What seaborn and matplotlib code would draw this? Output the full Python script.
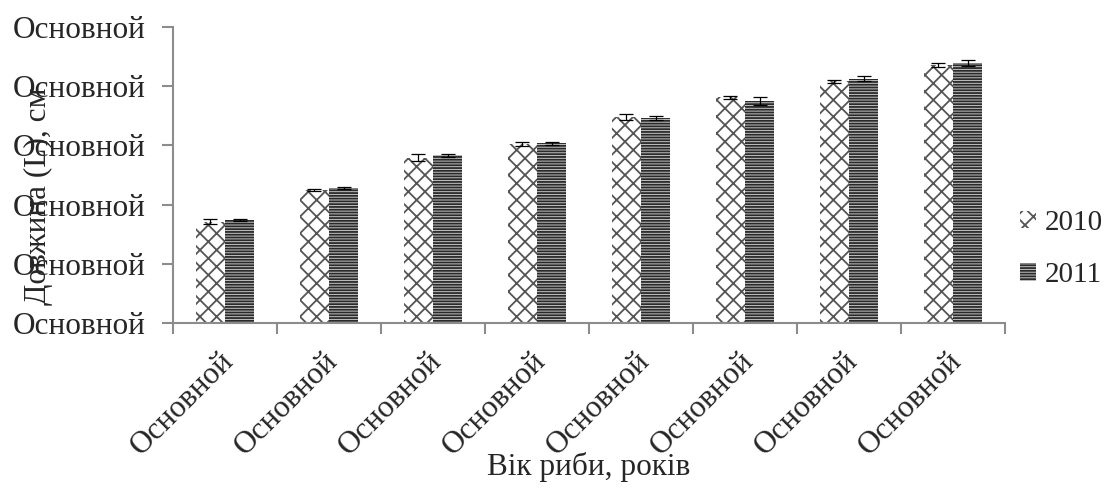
import matplotlib
matplotlib.use('Agg')
import matplotlib.pyplot as plt
from matplotlib.transforms import ScaledTranslation
import seaborn as sns
import pandas as pd

# ---- data ----
ages = ['1', '2', '3', '4', '5', '6', '7', '8']
x_tick_labels = ['Основной', 'Основной', 'Основной', 'Основной',
                 'Основной', 'Основной', 'Основной', 'Основной']
years = ['2010', '2011']
len_2010 = [17.1, 22.5, 27.9, 30.2, 34.85, 38.1, 40.8, 43.6]
len_2011 = [17.4, 22.8, 28.3, 30.35, 34.6, 37.5, 41.3, 43.9]
err_2010 = [0.4, 0.2, 0.6, 0.3, 0.5, 0.3, 0.3, 0.35]
err_2011 = [0.2, 0.15, 0.2, 0.3, 0.3, 0.7, 0.45, 0.45]
y_ticks = [0, 10, 20, 30, 40, 50]
y_tick_labels = ['Основной', 'Основной', 'Основной', 'Основной', 'Основной', 'Основной']
x_title = 'Вік риби, років'
y_title = 'Довжина (L), см'

df = pd.DataFrame({
    'age': ages + ages,
    'length': len_2010 + len_2011,
    'year': [years[0]] * len(ages) + [years[1]] * len(ages),
})
errors = [err_2010, err_2011]

sns.set_style('white')
plt.rcParams['font.family'] = ['Liberation Serif', 'DejaVu Serif']
plt.rcParams['hatch.linewidth'] = 1.3
FS = 22.5

fig = plt.figure(figsize=(11.1, 4.93), dpi=100)
ax = fig.add_axes([173 / 1110, 1 - 323 / 493, (1005 - 173) / 1110, (323 - 27) / 493])

sns.barplot(data=df, x='age', y='length', hue='year', order=ages, hue_order=years,
            palette=['white', '#c4c4c4'], width=0.56, gap=0, errorbar=None,
            legend=False, ax=ax)

bar_containers = list(ax.containers)
styles = [dict(fc='white', ec='#555555', hatch='xx'),
          dict(fc='#c4c4c4', ec='#2a2a2a', hatch='------')]
for cont, st, err in zip(bar_containers, styles, errors):
    xs, ys = [], []
    for p in cont.patches:
        p.set_facecolor(st['fc'])
        p.set_edgecolor(st['ec'])
        p.set_hatch(st['hatch'])
        p.set_linewidth(0)
        xs.append(p.get_x() + p.get_width() / 2)
        ys.append(p.get_height())
    ax.errorbar(xs, ys, yerr=err, fmt='none', ecolor='black', elinewidth=0.9,
                capsize=5, capthick=0.9)

ax.set_xlim(-0.5, len(ages) - 0.5)
ax.set_ylim(y_ticks[0], y_ticks[-1])
ax.set_yticks(y_ticks, labels=y_tick_labels)
ax.set_xticks(range(len(ages)), labels=x_tick_labels)
ax.set_xticks([i - 0.5 for i in range(len(ages) + 1)], minor=True)

for s in ['top', 'right']:
    ax.spines[s].set_visible(False)
for s in ['left', 'bottom']:
    ax.spines[s].set_color('#8c8c8c')
    ax.spines[s].set_linewidth(1.5)

ax.tick_params(axis='y', which='major', length=8, width=1.5, color='#8c8c8c',
               direction='out', left=True, labelsize=FS, pad=12)
ax.tick_params(axis='x', which='major', length=0, labelsize=FS, pad=4)
ax.tick_params(axis='x', which='minor', length=8, width=1.5, color='#8c8c8c',
               direction='out', bottom=True)

for lab in ax.get_xticklabels():
    lab.set_rotation(45)
    lab.set_ha('right')
    lab.set_va('center')
    lab.set_rotation_mode('anchor')
    lab.set_transform(lab.get_transform() + ScaledTranslation(4 / 100, -28 / 100, fig.dpi_scale_trans))

ax.set_xlabel(x_title, fontsize=FS)
ax.xaxis.set_label_coords(0.5, -(467 - 323) / 296)
ax.xaxis.label.set_va('center')
ax.set_ylabel(y_title, fontsize=FS)
ax.yaxis.set_label_coords((38 - 173) / 832, (323 - 196) / 296)
ax.yaxis.label.set_va('center')

handles = [c.patches[0] for c in bar_containers]
ax.legend(handles=handles, labels=years, loc='center left',
          bbox_to_anchor=(1.018, (323 - 249) / 296), frameon=False, fontsize=21,
          handlelength=0.55, handleheight=0.55, handletextpad=0.3, labelspacing=0.9,
          borderaxespad=0, borderpad=0)

fig.savefig('out.png', dpi=100)
